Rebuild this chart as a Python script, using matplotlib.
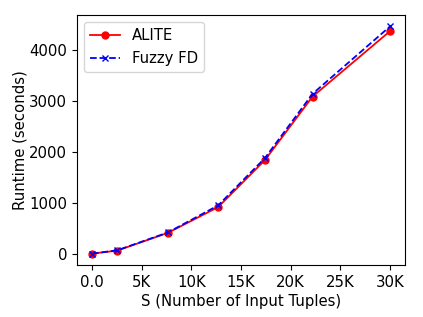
import matplotlib
matplotlib.use("Agg")
import matplotlib.pyplot as plt
from matplotlib.ticker import FuncFormatter

sizes = [0, 2550, 7650, 12700, 17400, 22200, 30000]
alite = [5, 65, 413, 917, 1837, 3083, 4367]
fuzzy = [5, 70, 420, 950, 1876, 3137, 4459]

fig = plt.figure(figsize=(4.23, 3.17), dpi=100)
ax = fig.add_axes([77/423, 1-265/317, (405-77)/423, (265-15)/317])
ax.plot(sizes, alite, color="red", marker="o", markersize=5, linewidth=1.3, linestyle="-", label="ALITE")
ax.plot(sizes, fuzzy, color="blue", marker="x", markersize=5, linewidth=1.3, linestyle="--", label="Fuzzy FD")

def fmt(v, pos):
    if v == 0:
        return "0.0"
    return f"{int(round(v/1000))}K"

fs = 10.7
ax.xaxis.set_major_formatter(FuncFormatter(fmt))
ax.set_xticks([0, 5000, 10000, 15000, 20000, 25000, 30000])
ax.set_yticks([0, 1000, 2000, 3000, 4000])
ax.tick_params(labelsize=fs)
ax.set_xlabel("S (Number of Input Tuples)", fontsize=fs, labelpad=3)
ax.set_ylabel("Runtime (seconds)", fontsize=fs, labelpad=1)
ax.legend(fontsize=fs, loc="upper left")
fig.savefig("out.png", dpi=100)
